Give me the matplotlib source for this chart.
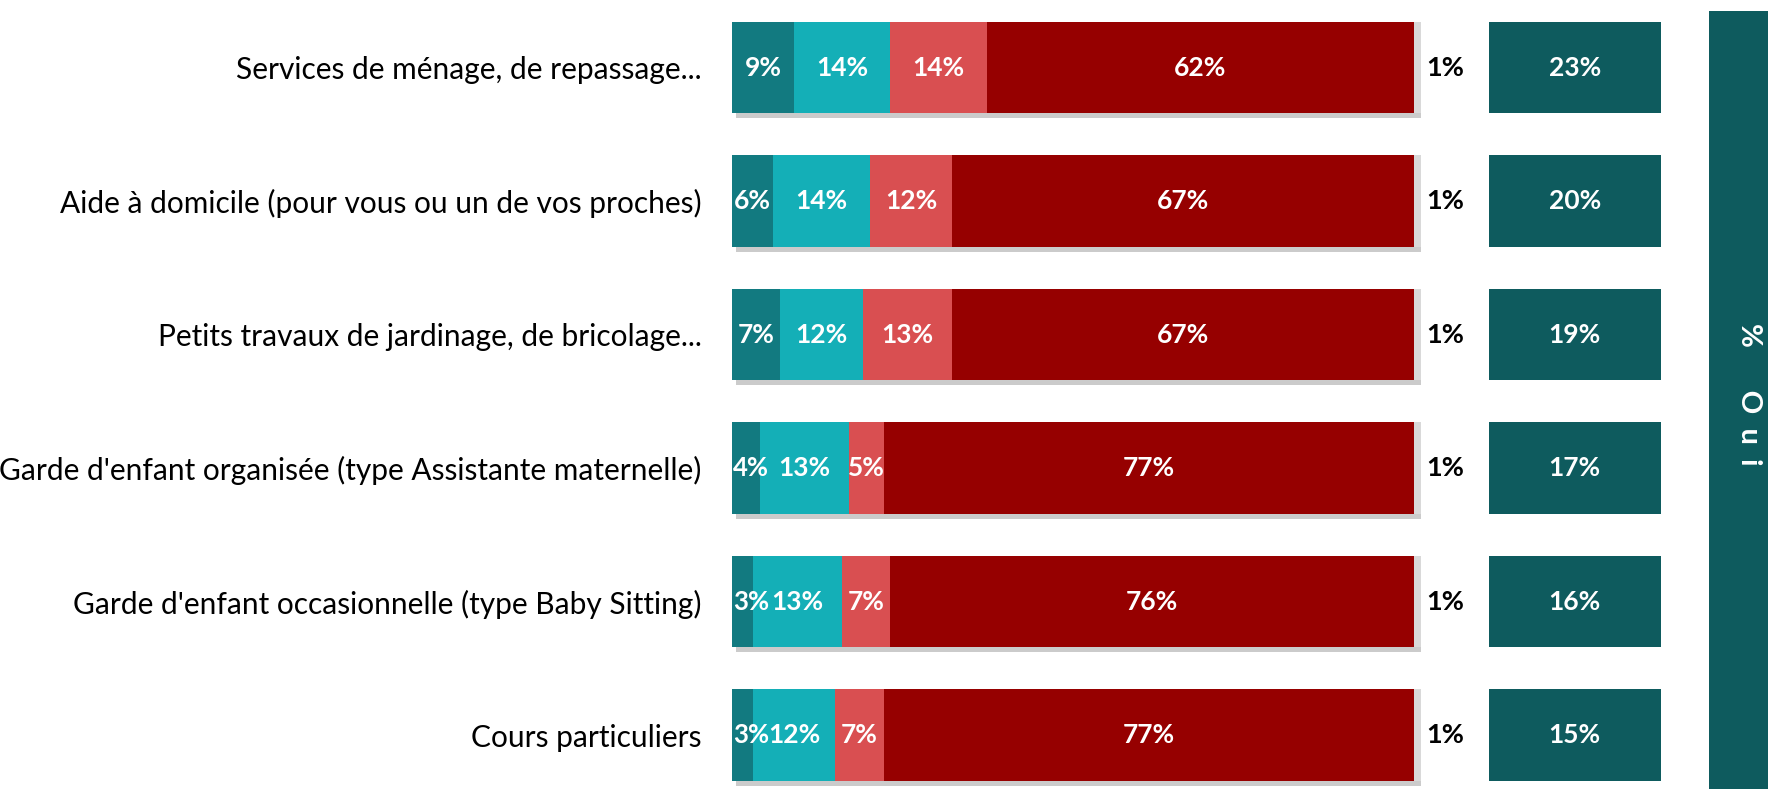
import matplotlib
matplotlib.use("Agg")
import matplotlib.pyplot as plt
import matplotlib.patheffects as pe
from matplotlib.patches import Rectangle

plt.rcParams["font.family"] = ["Lato", "DejaVu Sans"]

# data (percentages)
categories = [
    "Services de ménage, de repassage...",
    "Aide à domicile (pour vous ou un de vos proches)",
    "Petits travaux de jardinage, de bricolage...",
    "Garde d'enfant organisée (type Assistante maternelle)",
    "Garde d'enfant occasionnelle (type Baby Sitting)",
    "Cours particuliers",
]
oui_souvent = [9, 6, 7, 4, 3, 3]
oui_parfois = [14, 14, 12, 13, 13, 12]
non_pas_encore = [14, 12, 13, 5, 7, 7]
non_jamais = [62, 67, 67, 77, 76, 77]
nsp = [1, 1, 1, 1, 1, 1]
total_oui = [23, 20, 19, 17, 16, 15]

series = [oui_souvent, oui_parfois, non_pas_encore, non_jamais, nsp]
colors = ["#127a80", "#14afb7", "#d94f51", "#960000", "#d9d9d9"]
OUI_COLOR = "#0e5b5e"

W, H = 1768, 789
fig = plt.figure(figsize=(W / 100, H / 100), dpi=100)

# ---------------------------------------------------------------------
# stacked bars
# ---------------------------------------------------------------------
ax = fig.add_axes([732 / W, 0, 689 / W, 1])
ypos = list(range(len(categories)))
shadow = [pe.SimplePatchShadow(offset=(3, -3.5), shadow_rgbFace="#555555", alpha=0.3),
          pe.Normal()]

left = [0] * len(categories)
for k, (vals, col) in enumerate(zip(series, colors)):
    bars = ax.barh(ypos, vals, left=left, height=0.686, color=col,
                   edgecolor="none", zorder=2)
    for b in bars:
        b.set_path_effects(shadow)
    for i, v in enumerate(vals):
        if k == len(series) - 1:
            # small "NSP" slice: label outside, black
            ax.text(left[i] + v + 0.8, i, f"{v}%", ha="left", va="center",
                    color="black", fontsize=19.5, fontweight="bold", zorder=5)
        elif k == 0 and v < 5:
            # too thin: keep label inside the chart area
            ax.text(left[i] + 0.1, i, f"{v}%", ha="left", va="center",
                    color="white", fontsize=18.5, fontweight="bold", zorder=5)
        else:
            ax.text(left[i] + v / 2, i, f"{v}%", ha="center", va="center",
                    color="white", fontsize=19, fontweight="bold", zorder=5)
    left = [l + v for l, v in zip(left, vals)]

ax.set_xlim(0, 100)
ax.set_ylim(5.404, -0.506)
ax.set_yticks(ypos)
ax.set_yticklabels(categories, fontsize=21.5)
ax.tick_params(axis="y", length=0, pad=22)
ax.set_xticks([])
for s in ax.spines.values():
    s.set_visible(False)
ax.patch.set_alpha(0)

# ---------------------------------------------------------------------
# "% Oui" boxes
# ---------------------------------------------------------------------
ax2 = fig.add_axes([1488.5 / W, 0, 172.5 / W, 1])
ax2.barh(ypos, [1] * len(total_oui), height=0.686, color=OUI_COLOR,
         edgecolor="none")
for i, v in enumerate(total_oui):
    ax2.text(0.5, i, f"{v}%", ha="center", va="center", color="white",
             fontsize=19, fontweight="bold")
ax2.set_xlim(0, 1)
ax2.set_ylim(5.404, -0.506)
ax2.axis("off")

# side panel
fig.patches.append(Rectangle((1709 / W, 0), 1 - 1709 / W, 778 / H,
                             transform=fig.transFigure, facecolor=OUI_COLOR,
                             edgecolor="none", zorder=0))
fig.text(1749 / W, 1 - 394 / H, "%      O  u  i", rotation=270, ha="center",
         va="center", color="white", fontsize=21, fontweight="bold")

fig.savefig("out.png", dpi=100)
